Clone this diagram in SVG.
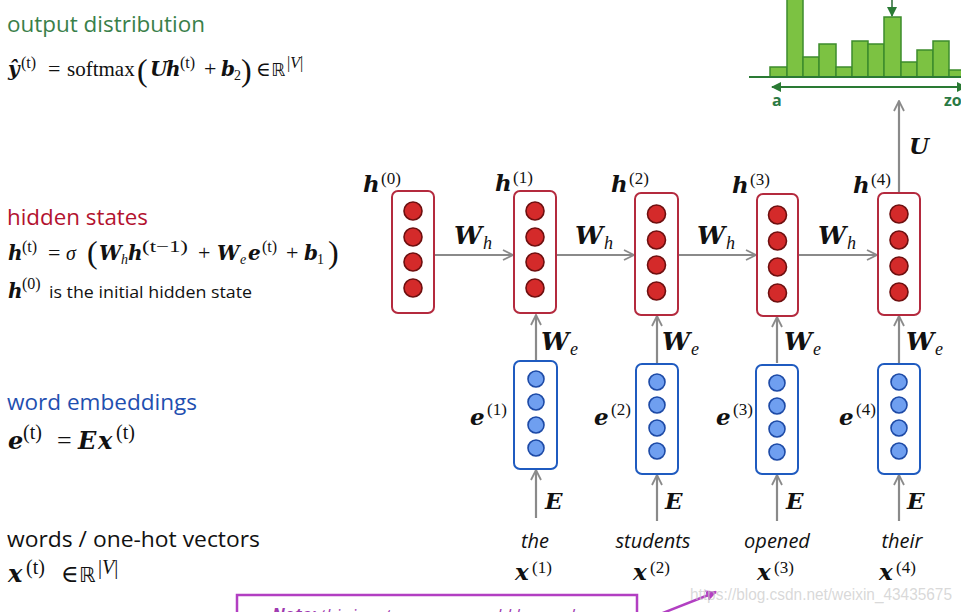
<svg xmlns="http://www.w3.org/2000/svg" width="961" height="612" viewBox="0 0 961 612">
<style>
.m{font-family:"Liberation Serif","DejaVu Serif",serif;font-size:20px;fill:#111}
.v{font-family:"DejaVu Serif",serif;font-weight:bold;font-style:italic}
.it{font-style:italic}
.sup{font-size:16px;font-weight:normal;font-style:normal}
.sub{font-size:14px}
.op{font-size:22px}
.big{font-size:32px;font-weight:normal;font-style:normal}
.sans{font-family:"Open Sans","Liberation Sans",sans-serif}
.lab{font-family:"Liberation Serif","DejaVu Serif",serif;fill:#111}
.vl{font-family:"DejaVu Serif",serif;font-weight:bold;font-style:italic;font-size:23px}
.wl{font-family:"DejaVu Serif",serif;font-weight:bold;font-style:italic;font-size:25px}
.sl{font-size:17px}
.word{font-family:"Open Sans","Liberation Sans",sans-serif;font-style:italic;font-size:20px;fill:#111}
.hbox{fill:#fff;stroke:#b42a3e;stroke-width:2}
.ebox{fill:#fff;stroke:#1f5bc0;stroke-width:2}
.hc{fill:#d42a2a;stroke:#6e0f0f;stroke-width:1.6}
.ec{fill:#6f9ff0;stroke:#1d4aa6;stroke-width:1.6}
.arr{stroke:#8a8a8a;stroke-width:2.2;fill:none}
.bar{fill:#7cc242;stroke:#3c8c2c;stroke-width:1.5}
</style>
<defs>
<marker id="ag" viewBox="0 0 12 12" refX="11" refY="6" markerWidth="12" markerHeight="12" markerUnits="userSpaceOnUse" orient="auto"><path d="M1,1 L11,6 L1,11" fill="none" stroke="#8a8a8a" stroke-width="1.8"/></marker>
<marker id="gr" viewBox="0 0 10 10" refX="9" refY="5" markerWidth="10" markerHeight="10" markerUnits="userSpaceOnUse" orient="auto-start-reverse"><path d="M0,0 L10,5 L0,10 z" fill="#2a7a34"/></marker>
<marker id="pu" viewBox="0 0 10 10" refX="9" refY="5" markerWidth="11" markerHeight="11" markerUnits="userSpaceOnUse" orient="auto"><path d="M0,0 L10,5 L0,10 z" fill="#b23fc2"/></marker>
</defs>
<rect width="961" height="612" fill="#fff"/>

<!-- left legend -->
<g id="legend">
<text class="sans" x="7" y="32" font-size="21" fill="#3a7f4a" textLength="198" lengthAdjust="spacingAndGlyphs">output distribution</text>
<text class="m" y="76"><tspan x="8" class="v">ŷ</tspan><tspan x="21" y="68" class="sup">(t)</tspan><tspan x="48" y="76" class="op">=</tspan><tspan x="67" y="76" font-size="21">softmax</tspan><tspan x="137" y="81" class="big">(</tspan><tspan x="150" y="76" class="v">U</tspan><tspan x="166" y="76" class="v">h</tspan><tspan x="180" y="68" class="sup">(t)</tspan><tspan x="204" y="76" class="op">+</tspan><tspan x="221" y="76" class="v">b</tspan><tspan x="234" y="80" class="sub">2</tspan><tspan x="241" y="81" class="big">)</tspan><tspan x="256" y="76">∈</tspan><tspan x="271" y="76" font-family="DejaVu Sans" font-size="18">ℝ</tspan><tspan x="287" y="68" class="sup">|<tspan class="it">V</tspan>|</tspan></text>

<text class="sans" x="7" y="225" font-size="21" fill="#b3122f" textLength="141" lengthAdjust="spacingAndGlyphs">hidden states</text>
<text class="m" y="260"><tspan x="8" class="v">h</tspan><tspan x="22" y="252" class="sup">(t)</tspan><tspan x="48" y="260" class="op">=</tspan><tspan x="66" y="260" class="it">σ</tspan><tspan x="87" y="263" class="big">(</tspan><tspan x="99" y="260" class="v">W</tspan><tspan x="121" y="264" class="sub it">h</tspan><tspan x="128" y="260" class="v">h</tspan><tspan x="142" y="252" class="sup" textLength="46" lengthAdjust="spacingAndGlyphs">(t−1)</tspan><tspan x="198" y="260" class="op">+</tspan><tspan x="217" y="260" class="v">W</tspan><tspan x="240" y="264" class="sub it">e</tspan><tspan x="248" y="260" class="v">e</tspan><tspan x="262" y="252" class="sup">(t)</tspan><tspan x="286" y="260" class="op">+</tspan><tspan x="304" y="260" class="v">b</tspan><tspan x="317" y="264" class="sub">1</tspan><tspan x="328" y="263" class="big">)</tspan></text>
<text class="m" y="298"><tspan x="8" class="v">h</tspan><tspan x="22" y="289" class="sup">(0)</tspan><tspan x="49" y="298" class="sans" font-size="16" textLength="203" lengthAdjust="spacingAndGlyphs">is the initial hidden state</tspan></text>

<text class="sans" x="7" y="410" font-size="21" fill="#1f4fb0" textLength="190" lengthAdjust="spacingAndGlyphs">word embeddings</text>
<text class="m" y="449"><tspan x="8" class="v" font-size="24">e</tspan><tspan x="23" y="439" font-size="20">(t)</tspan><tspan x="57" y="449" font-size="26">=</tspan><tspan x="78" y="449" class="v" font-size="24">E</tspan><tspan x="98" y="449" class="v" font-size="24">x</tspan><tspan x="116" y="439" font-size="20">(t)</tspan></text>

<text class="sans" x="7" y="547" font-size="21" fill="#111" textLength="253" lengthAdjust="spacingAndGlyphs">words / one-hot vectors</text>
<text class="m" y="582"><tspan x="8" class="v" font-size="24">x</tspan><tspan x="26" y="574" font-size="20">(t)</tspan><tspan x="61" y="582" font-size="24">∈</tspan><tspan x="79" y="582" font-family="DejaVu Sans" font-size="21">ℝ</tspan><tspan x="98" y="574" font-size="20">|<tspan class="it">V</tspan>|</tspan></text>
</g>

<!-- output histogram -->
<g id="output-distribution">
<rect class="bar" x="770" y="67" width="17" height="10"/>
<rect class="bar" x="787" y="-5" width="16" height="82"/>
<rect class="bar" x="803" y="57" width="16" height="20"/>
<rect class="bar" x="819" y="44" width="17" height="33"/>
<rect class="bar" x="836" y="67" width="16" height="10"/>
<rect class="bar" x="852" y="41" width="16" height="36"/>
<rect class="bar" x="868" y="44" width="16" height="33"/>
<rect class="bar" x="884" y="17" width="17" height="60"/>
<rect class="bar" x="901" y="62" width="16" height="15"/>
<rect class="bar" x="917" y="50" width="16" height="27"/>
<rect class="bar" x="933" y="41" width="16" height="36"/>
<rect class="bar" x="949" y="70" width="16" height="7"/>
<line x1="749" y1="77" x2="961" y2="77" stroke="#2a7a34" stroke-width="2"/>
<line x1="892" y1="0" x2="892" y2="16" stroke="#2a6a34" stroke-width="1.5" marker-end="url(#gr)"/>
<line x1="772" y1="87" x2="966" y2="87" stroke="#2a7a34" stroke-width="2" marker-start="url(#gr)" marker-end="url(#gr)"/>
<text class="sans" x="772" y="106" font-size="16" font-weight="bold" fill="#2a7a44">a</text>
<text class="sans" x="944" y="106" font-size="16" font-weight="bold" fill="#2a7a44">zo</text>
</g>

<!-- connectors -->
<g id="connectors">
<line class="arr" x1="434" y1="255" x2="513" y2="255" marker-end="url(#ag)"/>
<line class="arr" x1="556" y1="255" x2="634" y2="255" marker-end="url(#ag)"/>
<line class="arr" x1="678" y1="255" x2="756" y2="255" marker-end="url(#ag)"/>
<line class="arr" x1="798" y1="255" x2="877" y2="255" marker-end="url(#ag)"/>
<line class="arr" x1="536" y1="362" x2="536" y2="315" marker-end="url(#ag)"/>
<line class="arr" x1="657" y1="363" x2="657" y2="316" marker-end="url(#ag)"/>
<line class="arr" x1="777" y1="363" x2="777" y2="317" marker-end="url(#ag)"/>
<line class="arr" x1="899" y1="363" x2="899" y2="316" marker-end="url(#ag)"/>
<line class="arr" x1="536" y1="518" x2="536" y2="470" marker-end="url(#ag)"/>
<line class="arr" x1="657" y1="521" x2="657" y2="475" marker-end="url(#ag)"/>
<line class="arr" x1="777" y1="521" x2="777" y2="475" marker-end="url(#ag)"/>
<line class="arr" x1="899" y1="521" x2="899" y2="475" marker-end="url(#ag)"/>
<line class="arr" x1="899" y1="193" x2="899" y2="101" marker-end="url(#ag)"/>
<g class="lab">
<text x="454" y="244"><tspan class="wl">W</tspan><tspan x="483" y="249" class="it" font-size="18">h</tspan></text>
<text x="575" y="244"><tspan class="wl">W</tspan><tspan x="604" y="249" class="it" font-size="18">h</tspan></text>
<text x="697" y="244"><tspan class="wl">W</tspan><tspan x="726" y="249" class="it" font-size="18">h</tspan></text>
<text x="818" y="244"><tspan class="wl">W</tspan><tspan x="847" y="249" class="it" font-size="18">h</tspan></text>
<text x="541" y="350"><tspan class="wl">W</tspan><tspan x="570" y="355" class="it" font-size="18">e</tspan></text>
<text x="662" y="350"><tspan class="wl">W</tspan><tspan x="691" y="355" class="it" font-size="18">e</tspan></text>
<text x="784" y="350"><tspan class="wl">W</tspan><tspan x="813" y="355" class="it" font-size="18">e</tspan></text>
<text x="906" y="350"><tspan class="wl">W</tspan><tspan x="935" y="355" class="it" font-size="18">e</tspan></text>
<text x="545" y="509" class="vl" font-size="24">E</text>
<text x="665" y="509" class="vl" font-size="24">E</text>
<text x="786" y="509" class="vl" font-size="24">E</text>
<text x="907" y="509" class="vl" font-size="24">E</text>
<text x="909" y="154" class="vl" font-size="25">U</text>
</g>
</g>

<!-- hidden state nodes -->
<g id="h0">
<rect class="hbox" x="392" y="191" width="42" height="122" rx="6"/>
<circle class="hc" cx="413" cy="211" r="9"/><circle class="hc" cx="413" cy="237" r="9"/><circle class="hc" cx="413" cy="262" r="9"/><circle class="hc" cx="413" cy="288" r="9"/>
<text class="lab" x="363" y="192"><tspan class="vl">h</tspan><tspan x="381" y="184" class="sl">(0)</tspan></text>
</g>
<g id="h1">
<rect class="hbox" x="514" y="191" width="42" height="122" rx="6"/>
<circle class="hc" cx="535" cy="211" r="9"/><circle class="hc" cx="535" cy="237" r="9"/><circle class="hc" cx="535" cy="262" r="9"/><circle class="hc" cx="535" cy="288" r="9"/>
<text class="lab" x="495" y="191"><tspan class="vl">h</tspan><tspan x="513" y="183" class="sl">(1)</tspan></text>
</g>
<g id="h2">
<rect class="hbox" x="635" y="193" width="43" height="122" rx="6"/>
<circle class="hc" cx="656.5" cy="214" r="9"/><circle class="hc" cx="656.5" cy="240" r="9"/><circle class="hc" cx="656.5" cy="265" r="9"/><circle class="hc" cx="656.5" cy="291" r="9"/>
<text class="lab" x="611" y="192"><tspan class="vl">h</tspan><tspan x="629" y="184" class="sl">(2)</tspan></text>
</g>
<g id="h3">
<rect class="hbox" x="757" y="194" width="41" height="122" rx="6"/>
<circle class="hc" cx="777.5" cy="215" r="9"/><circle class="hc" cx="777.5" cy="241" r="9"/><circle class="hc" cx="777.5" cy="267" r="9"/><circle class="hc" cx="777.5" cy="293" r="9"/>
<text class="lab" x="732" y="193"><tspan class="vl">h</tspan><tspan x="750" y="185" class="sl">(3)</tspan></text>
</g>
<g id="h4">
<rect class="hbox" x="878" y="193" width="42" height="122" rx="6"/>
<circle class="hc" cx="899" cy="214" r="9"/><circle class="hc" cx="899" cy="240" r="9"/><circle class="hc" cx="899" cy="266" r="9"/><circle class="hc" cx="899" cy="292" r="9"/>
<text class="lab" x="853" y="193"><tspan class="vl">h</tspan><tspan x="871" y="185" class="sl">(4)</tspan></text>
</g>

<!-- embedding nodes -->
<g id="e1">
<rect class="ebox" x="514" y="361" width="43" height="108" rx="6"/>
<circle class="ec" cx="536" cy="379" r="8"/><circle class="ec" cx="536" cy="402" r="8"/><circle class="ec" cx="536" cy="425" r="8"/><circle class="ec" cx="536" cy="448" r="8"/>
<text class="lab" x="470" y="425"><tspan class="vl" font-size="25">e</tspan><tspan x="487" y="415" class="sl">(1)</tspan></text>
</g>
<g id="e2">
<rect class="ebox" x="636" y="364" width="42" height="110" rx="6"/>
<circle class="ec" cx="657" cy="382" r="8"/><circle class="ec" cx="657" cy="405" r="8"/><circle class="ec" cx="657" cy="428" r="8"/><circle class="ec" cx="657" cy="451" r="8"/>
<text class="lab" x="594" y="425"><tspan class="vl" font-size="25">e</tspan><tspan x="611" y="415" class="sl">(2)</tspan></text>
</g>
<g id="e3">
<rect class="ebox" x="756" y="365" width="42" height="109" rx="6"/>
<circle class="ec" cx="777" cy="383" r="8"/><circle class="ec" cx="777" cy="406" r="8"/><circle class="ec" cx="777" cy="429" r="8"/><circle class="ec" cx="777" cy="452" r="8"/>
<text class="lab" x="716" y="425"><tspan class="vl" font-size="25">e</tspan><tspan x="733" y="415" class="sl">(3)</tspan></text>
</g>
<g id="e4">
<rect class="ebox" x="878" y="364" width="42" height="110" rx="6"/>
<circle class="ec" cx="899" cy="382" r="8"/><circle class="ec" cx="899" cy="405" r="8"/><circle class="ec" cx="899" cy="428" r="8"/><circle class="ec" cx="899" cy="451" r="8"/>
<text class="lab" x="839" y="425"><tspan class="vl" font-size="25">e</tspan><tspan x="856" y="415" class="sl">(4)</tspan></text>
</g>

<!-- words -->
<g id="x1">
<text class="word" x="535" y="548" text-anchor="middle">the</text>
<text class="lab" x="515" y="580"><tspan class="vl">x</tspan><tspan x="532" y="573" class="sl">(1)</tspan></text>
</g>
<g id="x2">
<text class="word" x="653" y="548" text-anchor="middle">students</text>
<text class="lab" x="633" y="580"><tspan class="vl">x</tspan><tspan x="650" y="573" class="sl">(2)</tspan></text>
</g>
<g id="x3">
<text class="word" x="777" y="548" text-anchor="middle">opened</text>
<text class="lab" x="757" y="580"><tspan class="vl">x</tspan><tspan x="774" y="573" class="sl">(3)</tspan></text>
</g>
<g id="x4">
<text class="word" x="902" y="548" text-anchor="middle">their</text>
<text class="lab" x="879" y="580"><tspan class="vl">x</tspan><tspan x="896" y="573" class="sl">(4)</tspan></text>
</g>

<!-- note -->
<g id="note">
<rect x="237" y="595" width="400" height="40" fill="#fff" stroke="#b23fc2" stroke-width="2.5"/>
<text class="sans" x="272" y="621" font-size="17" font-style="italic" fill="#a03ab0"><tspan font-weight="bold">Note:</tspan> this input sequence could be much</text>
<line x1="640" y1="622" x2="716" y2="592" stroke="#b23fc2" stroke-width="2.5" marker-end="url(#pu)"/>
</g>
<text x="690" y="600" font-family="Liberation Sans, sans-serif" font-size="16" fill="#c8c8c8" fill-opacity="0.7" textLength="262" lengthAdjust="spacingAndGlyphs">https://blog.csdn.net/weixin_43435675</text>
</svg>
